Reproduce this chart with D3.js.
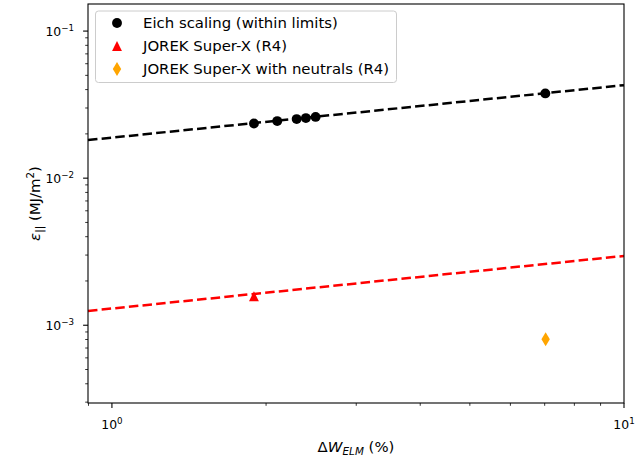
<!DOCTYPE html>
<html>
<head>
<meta charset="utf-8">
<script src="https://cdn.jsdelivr.net/npm/d3@7"></script>
<style>
  html, body { margin: 0; padding: 0; background: #fff; }
  text { font-family: "DejaVu Sans", sans-serif; fill: #000; }
</style>
</head>
<body>
<svg id="chart" width="636" height="459"></svg>
<script>
// ---- data ----
const eichX = [1.894, 2.103, 2.295, 2.392, 2.499, 7.02];
const eichY = [0.02355, 0.02443, 0.0252, 0.0256, 0.0261, 0.0377];
const jorekX = [1.894];
const jorekY = [0.001574];
const neutX = [7.03];
const neutY = [0.000804];
const eichFitX = [0.898, 10];
const eichFitY = [0.01815, 0.0429];
const jorekFitX = [0.898, 10];
const jorekFitY = [0.00125, 0.00296];
const xLimits = [0.898, 10];
const yLimits = [2.96e-4, 0.1528];
const xMajorExp = [0, 1];
const yMajorExp = [-3, -2, -1];
const legendLabels = ["Eich scaling (within limits)", "JOREK Super-X (R4)", "JOREK Super-X with neutrals (R4)"];

// ---- layout ----
const svg = d3.select("#chart");
const L = 88, R = 624, T = 4, B = 403;
const x = d3.scaleLog().domain(xLimits).range([L, R]);
const y = d3.scaleLog().domain(yLimits).range([B, T]);

// minor ticks
function logTicks(lo, hi) {
  const out = [];
  for (let e = Math.floor(Math.log10(lo)) - 1; e <= Math.ceil(Math.log10(hi)); e++) {
    for (let m = 1; m <= 9; m++) {
      const v = m * Math.pow(10, e);
      if (v >= lo * 0.999 && v <= hi * 1.001) out.push({v, major: m === 1});
    }
  }
  return out;
}

const g = svg.append("g");

// fit lines
function fitLine(xs, ys, color) {
  const pts = xs.map((d, i) => [x(d), y(ys[i])]);
  g.append("path")
    .attr("d", d3.line()(pts))
    .attr("fill", "none")
    .attr("stroke", color)
    .attr("stroke-width", 2.5)
    .attr("stroke-dasharray", "9.5,4.2");
}
fitLine(eichFitX, eichFitY, "#000000");
fitLine(jorekFitX, jorekFitY, "#ff0000");

// markers
const circlePath = r => d3.symbol().type(d3.symbolCircle).size(Math.PI * r * r)();
function triPath(s) { const h = s / 2; return `M0,${-h}L${h},${h}L${-h},${h}Z`; }
function thinDiamond(s) { const h = s * Math.SQRT2 / 2, w = h * 0.6; return `M0,${-h}L${w},0L0,${h}L${-w},0Z`; }
const MS = 9.9;

g.selectAll(".eich").data(eichX).enter().append("path")
  .attr("d", circlePath(MS / 2))
  .attr("transform", (d, i) => `translate(${x(d)},${y(eichY[i])})`)
  .attr("fill", "#000");
g.selectAll(".jorek").data(jorekX).enter().append("path")
  .attr("d", triPath(MS))
  .attr("transform", (d, i) => `translate(${x(d)},${y(jorekY[i])})`)
  .attr("fill", "#ff0000");
g.selectAll(".neut").data(neutX).enter().append("path")
  .attr("d", thinDiamond(MS))
  .attr("transform", (d, i) => `translate(${x(d)},${y(neutY[i])})`)
  .attr("fill", "#ffa500");

// axes frame
svg.append("rect").attr("x", L).attr("y", T).attr("width", R - L).attr("height", B - T)
  .attr("fill", "none").attr("stroke", "#000").attr("stroke-width", 1.1);

// x ticks
logTicks(xLimits[0], xLimits[1]).forEach(t => {
  const px = x(t.v);
  svg.append("line").attr("x1", px).attr("x2", px).attr("y1", B).attr("y2", B + (t.major ? 4.9 : 2.8))
    .attr("stroke", "#000").attr("stroke-width", t.major ? 1.1 : 0.8);
});
xMajorExp.forEach(e => {
  const px = x(Math.pow(10, e));
  const t = svg.append("text").attr("x", px).attr("y", 429).attr("text-anchor", "middle")
    .style("font-size", "12.4px");
  t.append("tspan").text("10");
  t.append("tspan").text(String(e).replace("-", "\u2212")).attr("dy", -5).style("font-size", "8.7px");
});

// y ticks
logTicks(yLimits[0], yLimits[1]).forEach(t => {
  const py = y(t.v);
  svg.append("line").attr("y1", py).attr("y2", py).attr("x1", L).attr("x2", L - (t.major ? 4.9 : 2.8))
    .attr("stroke", "#000").attr("stroke-width", t.major ? 1.1 : 0.8);
});
yMajorExp.forEach(e => {
  const py = y(Math.pow(10, e));
  const t = svg.append("text").attr("x", 74).attr("y", py + 5).attr("text-anchor", "end")
    .style("font-size", "12.4px");
  t.append("tspan").text("10");
  t.append("tspan").text(String(e).replace("-", "\u2212")).attr("dy", -5).style("font-size", "8.7px");
});

// x label
{
  const t = svg.append("text").attr("x", (L + R) / 2).attr("y", 452).attr("text-anchor", "middle")
    .style("font-size", "14.9px");
  t.append("tspan").text("\u0394");
  t.append("tspan").text("W").style("font-style", "italic");
  t.append("tspan").text("ELM").style("font-style", "italic").style("font-size", "10.4px").attr("dy", 3);
  t.append("tspan").text("\u00a0(%)").attr("dy", -3);
}
// y label
{
  const t = svg.append("text").attr("transform", `translate(40,${(T + B) / 2}) rotate(-90)`)
    .attr("text-anchor", "middle").style("font-size", "14.9px");
  t.append("tspan").text("\u03b5").style("font-style", "italic");
  t.append("tspan").text("||").style("font-size", "10.4px").attr("dy", 3);
  t.append("tspan").text("\u00a0(MJ/m").attr("dy", -3);
  t.append("tspan").text("2").style("font-size", "10.4px").attr("dy", -6);
  t.append("tspan").text(")").attr("dy", 6);
}

// legend
const lg = svg.append("g");
lg.append("rect").attr("x", 95.5).attr("y", 11).attr("width", 301).attr("height", 71.5).attr("rx", 3)
  .attr("fill", "#fff").attr("fill-opacity", 0.8).attr("stroke", "#cccccc").attr("stroke-width", 1);
const legendRows = [23, 46, 69];
const legendSym = [
  {d: circlePath(MS / 2), c: "#000"},
  {d: triPath(MS), c: "#ff0000"},
  {d: thinDiamond(MS), c: "#ffa500"}
];
legendLabels.forEach((lab, i) => {
  lg.append("path").attr("d", legendSym[i].d).attr("fill", legendSym[i].c)
    .attr("transform", `translate(117,${legendRows[i]})`);
  lg.append("text").attr("x", 143).attr("y", legendRows[i] + 5.3).style("font-size", "14.9px").text(lab);
});
</script>
</body>
</html>
